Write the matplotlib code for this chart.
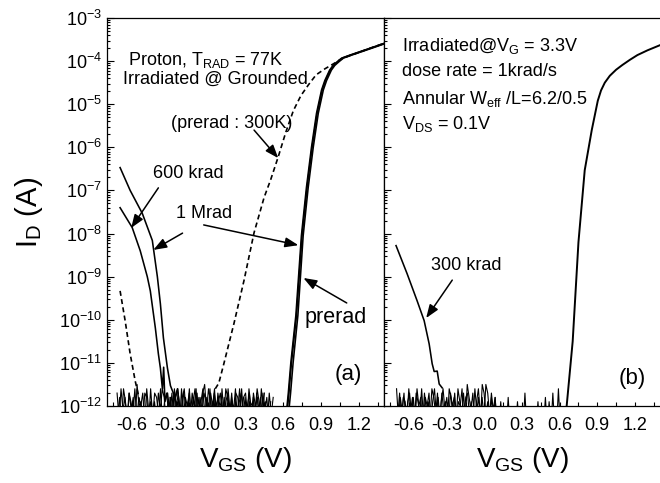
import numpy as np
import matplotlib
matplotlib.use("Agg")
import matplotlib.pyplot as plt
from matplotlib.ticker import MultipleLocator, FormatStrFormatter, LogLocator

plt.rcParams['font.family'] = ['Liberation Sans', 'DejaVu Sans']
plt.rcParams['mathtext.fontset'] = 'custom'
plt.rcParams['mathtext.rm'] = 'Liberation Sans'
plt.rcParams['mathtext.default'] = 'regular'
plt.rcParams['axes.unicode_minus'] = False

# ---- (a) proton, irradiated grounded, 77K ----
# on-state branch, log10(Id)
on_log = [-12.3, -11.7, -11.0, -9.9, -8.05, -6.93, -6.0, -5.21, -4.67,
          -4.45, -4.21, -4.10, -4.01, -3.93, -3.86, -3.79, -3.69, -3.58]
on_v_prerad = [0.620, 0.640, 0.660, 0.700, 0.744, 0.784, 0.824, 0.864, 0.904,
               0.930, 0.968, 0.995, 1.030, 1.064, 1.130, 1.200, 1.300, 1.408]
on_v_600k = [0.625, 0.645, 0.665, 0.705, 0.749, 0.789, 0.829, 0.869, 0.909,
             0.935, 0.973, 1.000, 1.035, 1.069, 1.135, 1.205, 1.305, 1.413]
on_v_1M = [0.638, 0.658, 0.678, 0.716, 0.758, 0.798, 0.838, 0.878, 0.918,
           0.944, 0.982, 1.009, 1.044, 1.078, 1.144, 1.214, 1.314, 1.422]

# edge leakage after irradiation
mrad1_v = [-0.696, -0.616, -0.52, -0.44, -0.40, -0.376, -0.352, -0.32, -0.296,
           -0.28, -0.26, -0.24, -0.22]
mrad1_log = [-6.47, -7.0, -7.53, -8.16, -9.0, -9.63, -10.42, -11.12, -11.53,
             -11.65, -11.80, -11.60, -12.2]
krad600_v = [-0.696, -0.60, -0.536, -0.48, -0.456, -0.416, -0.392, -0.376, -0.36,
             -0.35, -0.34, -0.32, -0.30]
krad600_log = [-7.40, -7.86, -8.4, -9.0, -9.33, -10.19, -10.79, -11.12, -11.6,
               -11.1, -11.9, -11.7, -12.2]

# prerad at 300K (dashed)
rt_left_v = [-0.696, -0.656, -0.616, -0.576, -0.55, -0.53]
rt_left_log = [-9.33, -10.02, -10.79, -11.42, -11.75, -12.2]
rt_v = [0.06, 0.088, 0.128, 0.208, 0.288, 0.368, 0.448, 0.50, 0.56, 0.62, 0.68,
        0.74, 0.80, 0.86, 0.93, 1.00, 1.06, 1.13, 1.20, 1.30, 1.408]
rt_log = [-11.6, -11.47, -11.02, -10.09, -9.09, -7.98, -7.16, -6.75, -6.22,
          -5.65, -5.15, -4.80, -4.55, -4.32, -4.18, -4.06, -3.95, -3.87,
          -3.80, -3.69, -3.58]

# measurement floor, log10(Id)
floor_a = [-11.7, -12.3, -11.6, -12.1, -11.8, -12.4, -11.7, -11.9, -12.2, -11.6,
           -12.3, -11.8, -12.0, -11.7, -12.4, -11.6, -12.1, -11.9, -12.3, -11.7,
           -11.8, -12.2, -11.6, -12.4, -11.9, -11.7, -12.1, -11.8, -12.3, -11.6,
           -12.0, -11.7, -12.4, -11.8, -11.6, -12.2, -11.9, -12.3, -11.7, -12.0,
           -11.6, -12.4, -11.8, -12.1, -11.7, -11.9, -12.3, -11.6, -12.2, -11.8,
           -12.4, -11.7, -12.0, -11.9, -12.3, -11.6, -11.8, -12.2, -11.7, -12.4,
           -11.9, -12.1, -11.6, -12.3, -11.8, -11.7, -12.2, -11.9, -12.4, -11.7,
           -12.0, -11.8, -12.3, -11.6, -12.1, -11.9, -12.4, -11.7, -12.2, -11.8]
floor_b = [-12.2, -11.8, -12.4, -11.6, -11.9, -12.3, -11.7, -12.1, -11.8, -12.4,
           -11.5, -12.0, -11.9, -12.3, -11.7, -11.8, -12.4, -11.6, -12.2, -11.9,
           -12.3, -11.7, -12.1, -11.6, -11.8, -12.4, -11.9, -12.2, -11.7, -12.3,
           -11.8, -11.6, -12.0, -12.4, -11.7, -11.9, -12.2, -11.6, -12.3, -11.8,
           -12.1, -11.7, -12.4, -11.9, -11.6, -12.2, -11.8, -12.3, -11.7, -12.0,
           -11.6, -12.4, -11.9, -11.7, -12.2, -11.8, -12.3, -11.6, -12.1, -11.9,
           -12.4, -11.7, -11.8, -12.2, -11.6, -12.3, -11.9, -12.0, -11.7, -12.4,
           -11.8, -12.2, -11.6, -11.9, -12.3, -11.7, -12.1, -11.8, -12.4, -11.9]
floor_c = [-11.8, -12.3, -11.7, -12.1, -11.9, -12.4, -11.6, -12.2, -11.8, -12.0,
           -11.7, -12.3, -11.9, -11.6, -12.2, -11.8, -12.4, -11.7, -11.5, -12.1,
           -11.6, -11.9, -12.3, -11.7, -12.0, -11.8, -12.4, -11.6, -12.2, -11.9,
           -11.7, -12.3, -11.8, -12.1, -11.6, -12.4, -11.9, -11.7, -12.2, -11.8,
           -12.3, -11.6, -12.0, -11.9, -12.4, -11.7, -12.1, -11.8, -12.3, -11.7]

# ---- (b) irradiated at VG = 3.3V ----
b_on_v = [0.640, 0.656, 0.704, 0.750, 0.800, 0.856, 0.904, 0.930, 0.960, 1.000,
          1.050, 1.100, 1.160, 1.220, 1.300, 1.400]
b_on_log = [-12.3, -12.0, -10.5, -8.2, -6.53, -5.6, -4.92, -4.68, -4.50, -4.34,
            -4.20, -4.09, -3.97, -3.86, -3.75, -3.63]
b_300k_v = [-0.704, -0.616, -0.536, -0.48, -0.44, -0.416, -0.40, -0.376, -0.36, -0.336]
b_300k_log = [-8.28, -8.93, -9.56, -10.02, -10.56, -11.02, -11.2, -11.19, -11.49, -11.58]
b_floor_a = [-11.6, -12.3, -11.8, -12.1, -11.7, -12.4, -11.9, -11.7, -12.2, -11.8,
             -12.3, -11.6, -12.0, -11.8, -12.4, -11.7, -12.1, -11.9, -12.3, -11.6,
             -11.8, -12.2, -11.7, -12.4, -11.9, -11.6, -12.1, -11.8, -12.3, -11.7,
             -12.0, -11.8, -12.4, -11.6, -11.9, -12.2, -11.7, -12.3, -11.5, -11.8,
             -12.1, -11.7, -12.4, -11.9, -11.6, -12.2, -11.8, -12.3, -11.5, -11.7,
             -12.2, -11.8, -12.4,
             -11.8, -12.5, -12.5, -11.9, -12.5, -12.5, -12.5, -11.8, -12.5, -12.5,
             -12.5, -12.5, -11.9, -12.5, -12.5, -12.5, -11.7, -12.5, -12.5, -12.5,
             -12.5, -12.5, -12.5, -11.9, -12.5, -12.5, -12.5, -11.8, -12.5, -11.9,
             -12.5, -11.7, -12.5, -12.5, -11.6, -12.5, -12.5]
b_floor_b = [-12.2, -11.7, -12.4, -11.8, -11.9, -12.3, -11.6, -12.1, -11.8, -12.4,
             -11.7, -11.9, -12.2, -11.6, -12.3, -11.8, -12.0, -11.7, -12.4, -11.9,
             -11.6, -12.2, -11.8, -12.3, -11.7, -12.1, -11.9, -12.4, -11.6, -11.8,
             -12.2, -11.7, -12.3, -11.9, -12.0, -11.6, -12.4, -11.8, -11.7, -12.2,
             -11.9, -12.3, -11.6, -12.1, -11.8, -12.4, -11.5, -11.7, -12.2, -11.9,
             -12.3, -11.7, -12.1, -11.8, -12.4]


def amps(logs):
    return 10.0 ** np.asarray(logs)


fig = plt.figure(figsize=(6.6, 4.83), dpi=100)
axl = fig.add_axes([107 / 660, 77 / 483, 277 / 660, 388 / 483])
axr = fig.add_axes([384 / 660, 77 / 483, 276 / 660, 388 / 483])

lw = 1.15
nlw = 0.8
k = 'black'

# panel (a)
axl.plot(np.linspace(-0.72, 0.52, len(floor_a)), amps(floor_a), color=k, lw=nlw)
axl.plot(np.linspace(-0.715, 0.50, len(floor_b)), amps(floor_b), color=k, lw=nlw)
axl.plot(np.linspace(-0.30, 0.45, len(floor_c)), amps(floor_c), color=k, lw=nlw)
for v in (on_v_prerad, on_v_600k, on_v_1M):
    axl.plot(v, amps(on_log), color=k, lw=lw)
axl.plot(mrad1_v, amps(mrad1_log), color=k, lw=lw)
axl.plot(krad600_v, amps(krad600_log), color=k, lw=lw)
axl.plot(rt_left_v, amps(rt_left_log), color=k, lw=1.2, ls=(0, (3, 2)))
axl.plot(rt_v, amps(rt_log), color=k, lw=1.2, ls=(0, (3, 2)))

# panel (b)
axr.plot(np.linspace(-0.70, 0.62, len(b_floor_a)), amps(b_floor_a), color=k, lw=nlw)
axr.plot(np.linspace(-0.69, 0.10, len(b_floor_b)), amps(b_floor_b), color=k, lw=nlw)
axr.plot(b_300k_v, amps(b_300k_log), color=k, lw=lw)
axr.plot(b_on_v, amps(b_on_log), color=k, lw=1.4)

for ax in (axl, axr):
    ax.set_yscale('log')
    ax.set_xlim(-0.8, 1.4)
    ax.set_ylim(1e-12, 1e-3)
    ax.xaxis.set_major_locator(MultipleLocator(0.3))
    ax.xaxis.set_minor_locator(MultipleLocator(0.15))
    ax.xaxis.set_major_formatter(FormatStrFormatter('%.1f'))
    ax.yaxis.set_major_locator(LogLocator(base=10, numticks=12))
    ax.yaxis.set_minor_locator(LogLocator(base=10, subs=np.arange(2, 10), numticks=12))
    ax.tick_params(axis='both', which='both', direction='in', top=False, right=False,
                   labelsize=13, width=0.8)
    ax.tick_params(axis='y', which='major', length=5)
    ax.tick_params(axis='y', which='minor', length=2.5)
    ax.tick_params(axis='x', which='both', length=3, pad=8)
    for s in ax.spines.values():
        s.set_linewidth(0.9)
    ax.set_xlabel(r'V$_{\mathregular{GS}}$ (V)', fontsize=20, labelpad=8)

axr.tick_params(axis='y', labelleft=False)
axr.spines['right'].set_visible(False)
axl.set_ylabel(r'I$_{\mathregular{D}}$ (A)', fontsize=21, labelpad=10)


def arrow(ax, start, tip):
    ax.annotate('', xy=(tip[0], 10.0 ** tip[1]), xytext=(start[0], 10.0 ** start[1]),
                arrowprops=dict(arrowstyle='-|>,head_length=0.8,head_width=0.3',
                                color=k, lw=1.1, shrinkA=0, shrinkB=0))


fs = 13
axl.text(0.076, 0.892, r'Proton, T$_{RAD}$ = 77K', transform=axl.transAxes,
         fontsize=fs, va='center', ha='left')
axl.text(0.058, 0.843, 'Irradiated @ Grounded', transform=axl.transAxes,
         fontsize=fs, va='center', ha='left')
axl.text(0.451, 0.729, '(prerad : 300K)', transform=axl.transAxes,
         fontsize=fs, va='center', ha='center')
axl.text(0.292, 0.598, '600 krad', transform=axl.transAxes,
         fontsize=fs, va='center', ha='center')
axl.text(0.350, 0.497, '1 Mrad', transform=axl.transAxes,
         fontsize=fs, va='center', ha='center')
axl.text(0.827, 0.227, 'prerad', transform=axl.transAxes,
         fontsize=15.5, va='center', ha='center')
axl.text(0.870, 0.082, '(a)', transform=axl.transAxes,
         fontsize=16, va='center', ha='center')

arrow(axl, (-0.392, -6.94), (-0.608, -7.87))
arrow(axl, (-0.200, -7.99), (-0.432, -8.38))
arrow(axl, (-0.032, -7.80), (0.720, -8.27))
arrow(axl, (0.368, -5.60), (0.560, -6.25))
arrow(axl, (1.104, -9.61), (0.760, -9.03))

axr.text(0.065, 0.928, r'Irradiated@V$_{G}$ = 3.3V', transform=axr.transAxes,
         fontsize=fs, va='center', ha='left')
axr.text(0.065, 0.861, 'dose rate = 1krad/s', transform=axr.transAxes,
         fontsize=fs, va='center', ha='left')
axr.text(0.065, 0.791, r'Annular W$_{eff}$ /L=6.2/0.5', transform=axr.transAxes,
         fontsize=fs, va='center', ha='left')
axr.text(0.065, 0.727, r'V$_{DS}$ = 0.1V', transform=axr.transAxes,
         fontsize=fs, va='center', ha='left')
axr.text(0.297, 0.363, '300 krad', transform=axr.transAxes,
         fontsize=fs, va='center', ha='center')
axr.text(0.899, 0.072, '(b)', transform=axr.transAxes,
         fontsize=16, va='center', ha='center')
arrow(axr, (-0.256, -9.08), (-0.464, -9.96))

fig.savefig('out.png', dpi=100)
